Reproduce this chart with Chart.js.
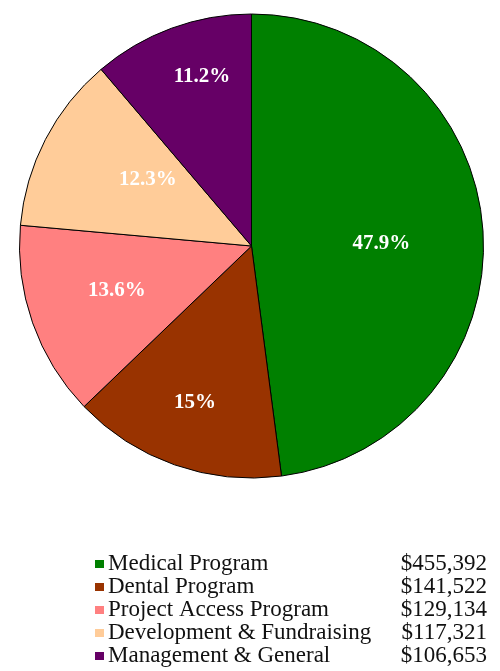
<!DOCTYPE html>
<html lang="en">
<head>
  <meta charset="UTF-8">
  <title>Expenses by program</title>
  <style>
    html, body { margin: 0; padding: 0; background: #fff; }
    #wrap { width: 500px; height: 671px; }
  </style>
  <script src="https://cdn.jsdelivr.net/npm/chart.js@4/dist/chart.umd.min.js"></script>
</head>
<body>
  <div id="wrap"><canvas id="myChart" width="500" height="671"></canvas></div>
  <script>
    // data
    const categories = ['Medical Program', 'Dental Program', 'Project Access Program', 'Development & Fundraising', 'Management & General'];
    const amounts = [455392, 141522, 129134, 117321, 106653];
    const pctLabels = ['47.9%', '15%', '13.6%', '12.3%', '11.2%'];
    const colors = ['#008000', '#993300', '#FF8080', '#FFCC99', '#660066'];

    // where each percent label sits: fraction of radius, and a nudge in degrees
    const labelPos = [0.56, 0.717, 0.611, 0.53, 0.76];
    const labelNudge = [2.8, 0.5, 1.2, 5.2, 3.9];

    const serif = '"Liberation Serif", "DejaVu Serif", serif';

    const pieLabels = {
      id: 'pieLabels',
      afterDatasetsDraw(chart) {
        const ctx = chart.ctx;
        const meta = chart.getDatasetMeta(0);
        ctx.save();
        ctx.fillStyle = '#fff';
        ctx.font = 'bold 21px ' + serif;
        ctx.textAlign = 'center';
        ctx.textBaseline = 'middle';
        meta.data.forEach((arc, i) => {
          const mid = (arc.startAngle + arc.endAngle) / 2 + labelNudge[i] * Math.PI / 180;
          const r = arc.outerRadius * labelPos[i];
          ctx.fillText(pctLabels[i], arc.x + Math.cos(mid) * r, arc.y + Math.sin(mid) * r);
        });
        ctx.restore();
      }
    };

    const sideLegend = {
      id: 'sideLegend',
      afterDraw(chart) {
        const ctx = chart.ctx;
        ctx.save();
        ctx.font = '23px ' + serif;
        ctx.textBaseline = 'middle';
        categories.forEach((c, i) => {
          const y = 564 + i * 23;
          ctx.fillStyle = colors[i];
          ctx.fillRect(95, y - 4, 9, 8);
          ctx.fillStyle = '#111';
          ctx.textAlign = 'left';
          ctx.fillText(c, 108, y);
          ctx.textAlign = 'right';
          ctx.fillText('$' + amounts[i].toLocaleString('en-US'), 487, y);
        });
        ctx.restore();
      }
    };

    new Chart(document.getElementById('myChart'), {
      type: 'pie',
      data: {
        labels: categories,
        datasets: [{
          data: amounts,
          backgroundColor: colors,
          borderColor: '#000',
          borderWidth: 1
        }]
      },
      options: {
        responsive: false,
        animation: false,
        layout: { padding: { left: 19, top: 13, right: 16, bottom: 192 } },
        plugins: {
          legend: { display: false },
          tooltip: { enabled: false }
        }
      },
      plugins: [pieLabels, sideLegend]
    });
  </script>
</body>
</html>
